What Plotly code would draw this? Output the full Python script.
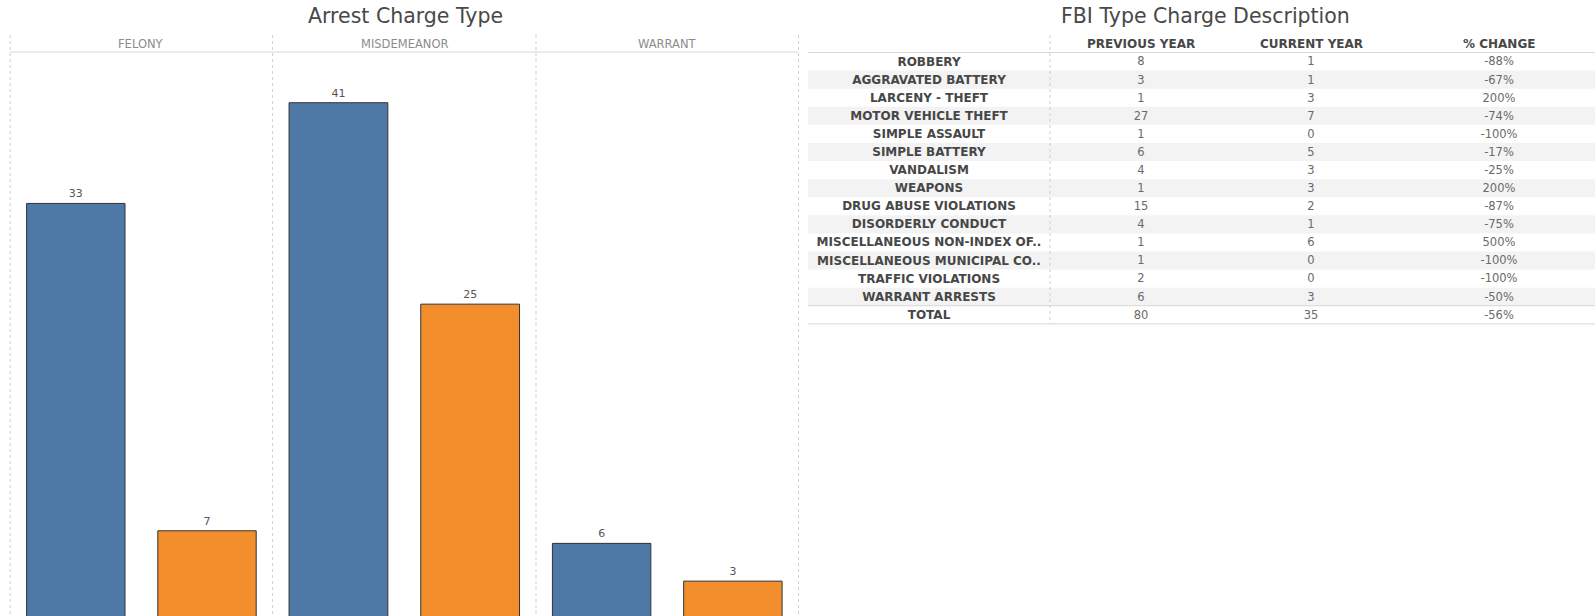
import plotly.graph_objects as go

# ---------------- data ----------------
charge_types = ["FELONY", "MISDEMEANOR", "WARRANT"]
series_names = ["Previous Year", "Current Year"]
previous_year_by_type = [33, 41, 6]
current_year_by_type = [7, 25, 3]

fbi_charges = [
    "ROBBERY", "AGGRAVATED BATTERY", "LARCENY - THEFT", "MOTOR VEHICLE THEFT",
    "SIMPLE ASSAULT", "SIMPLE BATTERY", "VANDALISM", "WEAPONS",
    "DRUG ABUSE VIOLATIONS", "DISORDERLY CONDUCT", "MISCELLANEOUS NON-INDEX OF..",
    "MISCELLANEOUS MUNICIPAL CO..", "TRAFFIC VIOLATIONS", "WARRANT ARRESTS", "TOTAL",
]
fbi_previous = [8, 3, 1, 27, 1, 6, 4, 1, 15, 4, 1, 1, 2, 6, 80]
fbi_current = [1, 1, 3, 7, 0, 5, 3, 3, 2, 1, 6, 0, 0, 3, 35]
fbi_pct_change = ["-88%", "-67%", "200%", "-74%", "-100%", "-17%", "-25%", "200%",
                  "-87%", "-75%", "500%", "-100%", "-100%", "-50%", "-56%"]
table_headers = ["PREVIOUS YEAR", "CURRENT YEAR", "% CHANGE"]

# ---------------- layout helpers ----------------
W, H = 1595, 616
def fx(px): return px / W
def fy(py): return 1 - py / H

BLUE = "#4e79a7"
ORANGE = "#f28e2b"
FONT = "DejaVu Sans"

panel_edges = [10.2, 272.6, 536.0, 798.5]
plot_top = 52.0
zero_px = 618.9
px_per_unit = 12.59
y_range = [(zero_px - H) / px_per_unit, (zero_px - plot_top) / px_per_unit]

fig = go.Figure()

for i, ct in enumerate(charge_types):
    xa = "x" if i == 0 else f"x{i+1}"
    ya = "y" if i == 0 else f"y{i+1}"
    fig.add_trace(go.Bar(
        x=series_names,
        y=[previous_year_by_type[i], current_year_by_type[i]],
        marker=dict(color=[BLUE, ORANGE], line=dict(color="#333333", width=1)),
        texttemplate="%{y}", textposition="outside",
        textfont=dict(family=FONT, size=11, color="#555555"),
        cliponaxis=False, showlegend=False, name=ct, hoverinfo="skip",
        xaxis=xa, yaxis=ya,
    ))
    ax_key = "xaxis" if i == 0 else f"xaxis{i+1}"
    ay_key = "yaxis" if i == 0 else f"yaxis{i+1}"
    fig.update_layout(**{
        ax_key: dict(domain=[fx(panel_edges[i]), fx(panel_edges[i+1])],
                     anchor=ya, showticklabels=False, showgrid=False,
                     zeroline=False, showline=False, ticks="", fixedrange=True),
        ay_key: dict(domain=[0, fy(plot_top)], anchor=xa, range=y_range,
                     visible=False, fixedrange=True),
    })
    fig.add_annotation(
        x=fx((panel_edges[i] + panel_edges[i+1]) / 2), y=fy(44),
        xref="paper", yref="paper", text=ct, showarrow=False,
        font=dict(family=FONT, size=11.5, color="#8c8c8c"),
        xanchor="center", yanchor="middle",
    )

# ---------------- table (text marks on their own axes) ----------------
n_rows = len(fbi_charges)
tbl_left, tbl_right = 808.0, 1595.0
tbl_header_y = 44.0
tbl_header_line = 52.5
row_h = 18.09
tbl_bottom = tbl_header_line + row_h * n_rows
col_centers = [929, 1141, 1311, 1499]
text_shift = 1.0  # px, text sits slightly below row centre

fig.update_layout(
    xaxis4=dict(domain=[fx(tbl_left), fx(tbl_right)], range=[tbl_left, tbl_right],
                anchor="y4", visible=False, fixedrange=True),
    yaxis4=dict(domain=[fy(tbl_bottom + text_shift), fy(tbl_header_line + text_shift)],
                type="category", categoryorder="array", categoryarray=fbi_charges,
                range=[n_rows - 0.5, -0.5], anchor="x4", visible=False, fixedrange=True),
)

col_values = [fbi_charges, fbi_previous, fbi_current, fbi_pct_change]
for c, vals in enumerate(col_values):
    is_label = c == 0
    fig.add_trace(go.Scatter(
        x=[col_centers[c]] * n_rows, y=fbi_charges,
        text=[f"<b>{v}</b>" if is_label else str(v) for v in vals],
        mode="text", textposition="middle center",
        textfont=dict(family=FONT, size=12 if is_label else 11.5,
                      color="#474747" if is_label else "#6a6a6a"),
        xaxis="x4", yaxis="y4", showlegend=False, hoverinfo="skip", cliponaxis=False,
    ))

for c, h in enumerate(table_headers):
    fig.add_annotation(x=fx(col_centers[c + 1]), y=fy(tbl_header_y), xref="paper", yref="paper",
                       text=f"<b>{h}</b>", showarrow=False,
                       font=dict(family=FONT, size=12, color="#474747"),
                       xanchor="center", yanchor="middle")

# ---------------- decorations ----------------
shapes = []
# table row banding
for r in range(n_rows - 1):
    if r % 2 == 1:
        y0 = tbl_header_line + row_h * r
        shapes.append(dict(type="rect", xref="paper", yref="paper", x0=fx(tbl_left), x1=1,
                           y0=fy(y0), y1=fy(y0 + row_h), fillcolor="#f3f3f3",
                           line=dict(width=0), layer="below"))
# bar header separator
shapes.append(dict(type="line", xref="paper", yref="paper",
                   x0=fx(panel_edges[0]), x1=fx(panel_edges[-1]),
                   y0=fy(plot_top), y1=fy(plot_top),
                   line=dict(color="#d6d6d6", width=1)))
for e in panel_edges:
    shapes.append(dict(type="line", xref="paper", yref="paper",
                       x0=fx(e), x1=fx(e), y0=fy(35), y1=0,
                       line=dict(color="#cfcfcf", width=1, dash="dot")))
# table lines
for yy in (tbl_header_line, tbl_header_line + row_h * (n_rows - 1), tbl_bottom):
    shapes.append(dict(type="line", xref="paper", yref="paper", x0=fx(tbl_left), x1=1,
                       y0=fy(yy), y1=fy(yy), line=dict(color="#d6d6d6", width=1)))
shapes.append(dict(type="line", xref="paper", yref="paper", x0=fx(1050), x1=fx(1050),
                   y0=fy(35), y1=fy(tbl_bottom),
                   line=dict(color="#cfcfcf", width=1, dash="dot")))

fig.add_annotation(x=fx(405), y=fy(16), xref="paper", yref="paper",
                   text="Arrest Charge Type", showarrow=False,
                   font=dict(family=FONT, size=20.5, color="#484848"),
                   xanchor="center", yanchor="middle")
fig.add_annotation(x=fx(1205), y=fy(16), xref="paper", yref="paper",
                   text="FBI Type Charge Description", showarrow=False,
                   font=dict(family=FONT, size=20.5, color="#484848"),
                   xanchor="center", yanchor="middle")

fig.update_layout(
    width=W, height=H, margin=dict(l=0, r=0, t=0, b=0),
    paper_bgcolor="#ffffff", plot_bgcolor="rgba(0,0,0,0)",
    bargap=0.25, shapes=shapes, showlegend=False,
    font=dict(family=FONT),
)

fig.write_html("out.html", config={"displayModeBar": False},
               post_script="document.body.style.margin='0';document.body.style.overflow='hidden';")
